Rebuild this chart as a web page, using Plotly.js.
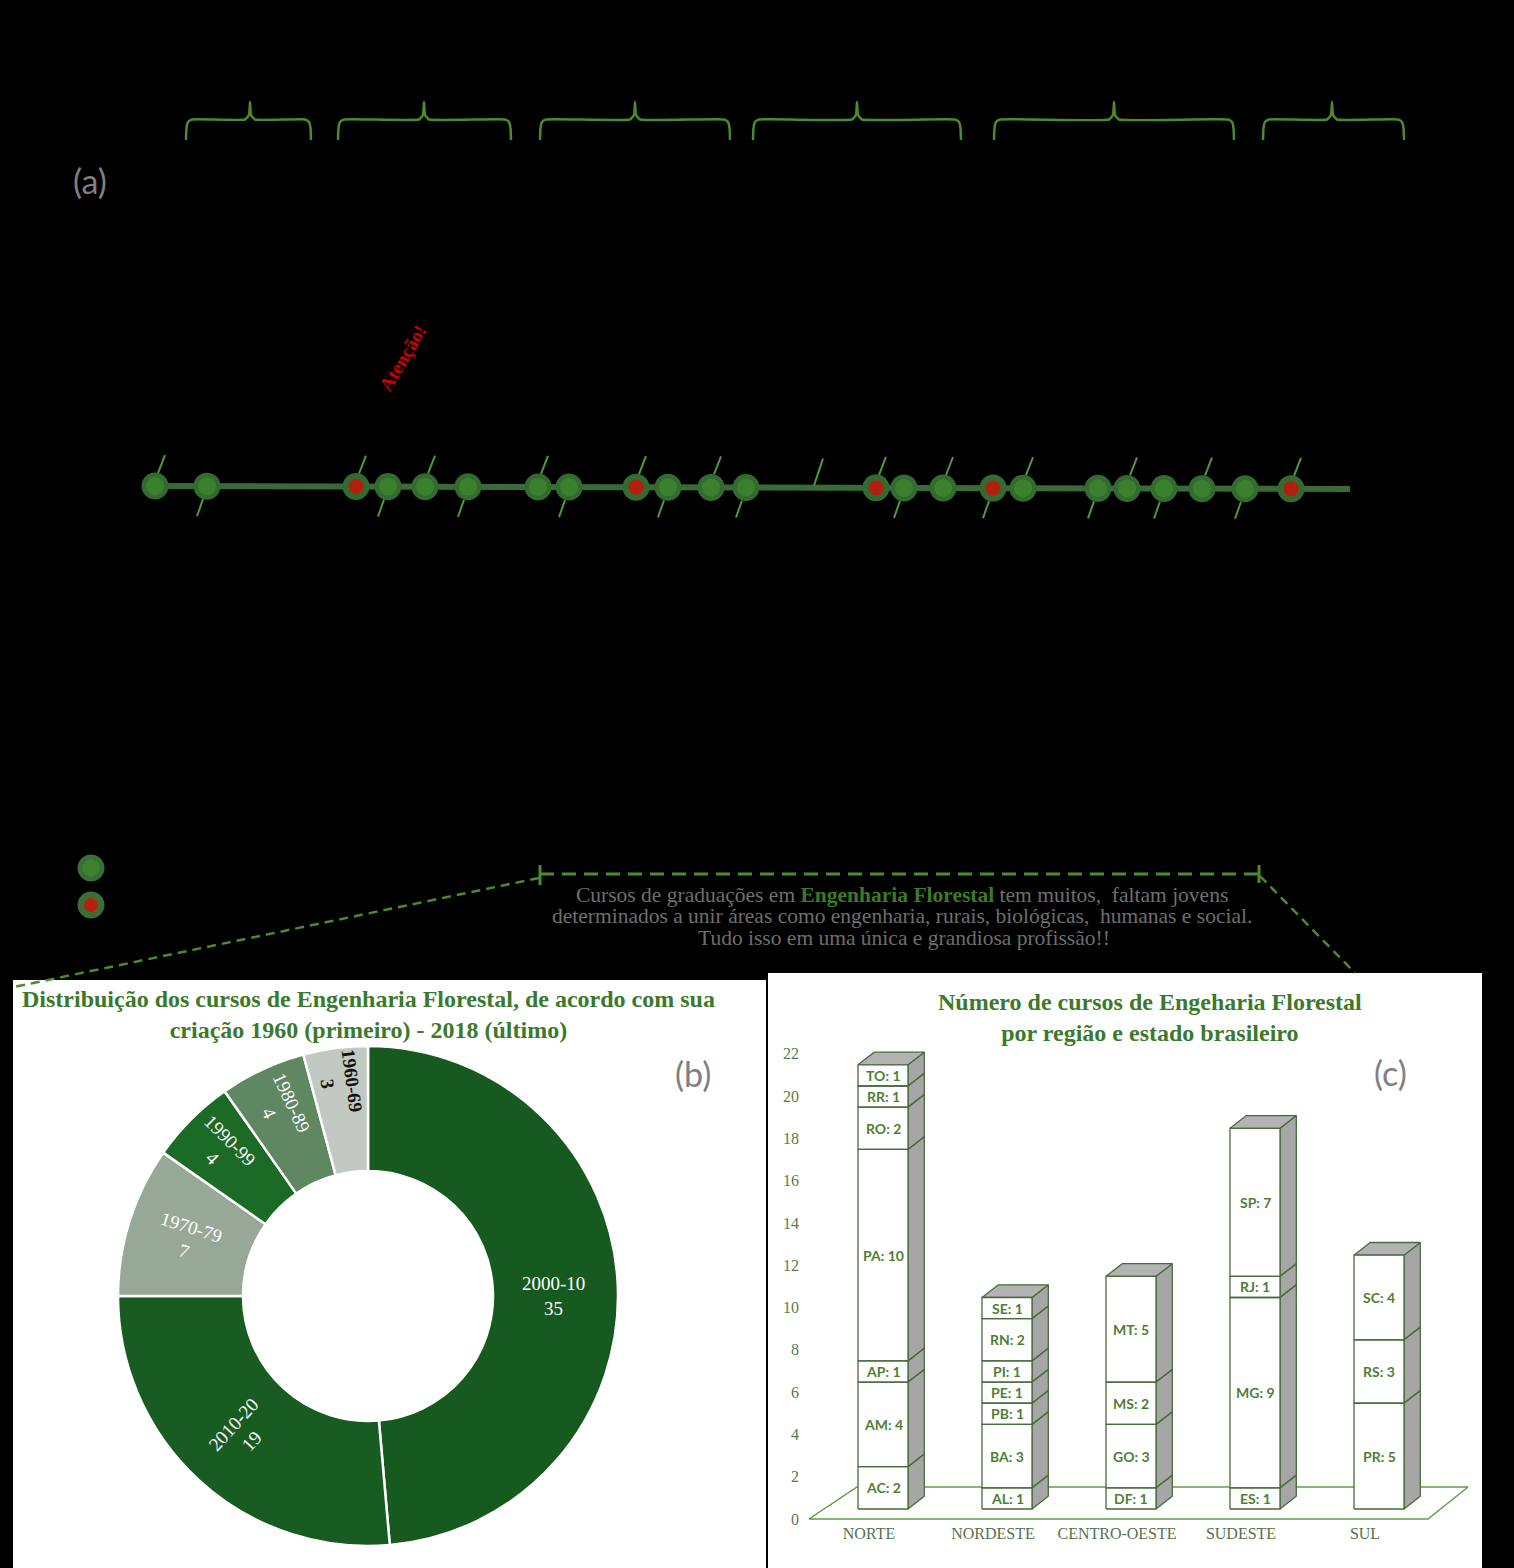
<!DOCTYPE html>
<html><head><meta charset="utf-8">
<script src="https://cdn.plot.ly/plotly-3.0.1.min.js"></script>
<style>html,body{margin:0;padding:0;background:#000;}#chart{width:1514px;height:1568px;}</style>
</head><body><div id="chart"></div>
<script>
// ================= DATA =================
// (a) timeline: event positions along the timeline and kind (g = green, r = red)
const timelinePos  = [155,207,356,388,425,468,538,569,636,668,711,746,876,904,943,993,1023,1098,1127,1164,1202,1245,1291];
const timelineKind = ['g','g','r','g','g','g','g','g','r','g','g','g','r','g','g','r','g','g','g','g','g','g','r'];
const plainTickPos = [814];
// decade braces above the timeline
const braceStart = [186,338,540,753,994,1263];
const braceEnd   = [311,511,730,961,1234,1404];
const braceTip   = [250,424,635,857,1114,1332];

// (b) donut
const decadeLabels = ['2000-10','2010-20','1970-79','1990-99','1980-89','1960-69'];
const decadeCounts = [35,19,7,4,4,3];
const decadeColors = ['#165a1f','#195c21','#97a996','#1b6a25','#5e8762','#c2c9c2'];

// (c) stacked 3D bars
const regions = ['NORTE','NORDESTE','CENTRO-OESTE','SUDESTE','SUL'];
const norteStates = ['AC','AM','AP','PA','RO','RR','TO'];
const norteCounts = [2,4,1,10,2,1,1];
const nordesteStates = ['AL','BA','PB','PE','PI','RN','SE'];
const nordesteCounts = [1,3,1,1,1,2,1];
const centroStates = ['DF','GO','MS','MT'];
const centroCounts = [1,3,2,5];
const sudesteStates = ['ES','MG','RJ','SP'];
const sudesteCounts = [1,9,1,7];
const sulStates = ['PR','RS','SC'];
const sulCounts = [5,3,4];
const yTicks = [0,2,4,6,8,10,12,14,16,18,20,22];

// ================= STYLE / LAYOUT CONSTANTS =================
const W = 1514, H = 1568;
const traces = [];
const annotations = [];
const shapes = [];
const px = v => v / W, py = v => 1 - v / H;

// panel backgrounds
shapes.push({type:'rect',xref:'paper',yref:'paper',x0:px(13),x1:px(766),y0:0,y1:py(980),fillcolor:'#ffffff',line:{width:0},layer:'below'});
shapes.push({type:'rect',xref:'paper',yref:'paper',x0:px(768),x1:px(1482),y0:0,y1:py(973),fillcolor:'#ffffff',line:{width:0},layer:'below'});

// ---------- (a) timeline ----------
const lineX0 = 145, lineX1 = 1350, lineY0 = 486, lineY1 = 489;
const yOnLine = x => lineY0 + (lineY1 - lineY0) * (x - lineX0) / (lineX1 - lineX0);
const noLine = {width:0};

traces.push({type:'scatter',mode:'lines',x:[lineX0,lineX1],y:[lineY0,lineY1],
  line:{color:'#3a6a37',width:6},hoverinfo:'skip',xaxis:'x',yaxis:'y'});

// diagonal ticks
const tx = [], ty = [];
timelinePos.forEach((p,i) => {
  const c = yOnLine(p);
  if (i % 2 === 0) { tx.push(p+3, p+10, null); ty.push(c-13, c-31, null); }
  else { tx.push(p-4, p-10, null); ty.push(c+13, c+30, null); }
});
plainTickPos.forEach(p => { const c = yOnLine(p); tx.push(p, p+9, null); ty.push(c-2, c-29, null); });
traces.push({type:'scatter',mode:'lines',x:tx,y:ty,line:{color:'#4f9a3c',width:2},hoverinfo:'skip',xaxis:'x',yaxis:'y'});

// dots
traces.push({type:'scatter',mode:'markers',x:timelinePos,y:timelinePos.map(yOnLine),
  marker:{size:27,color:'#336a30',line:noLine},hoverinfo:'skip',xaxis:'x',yaxis:'y'});
traces.push({type:'scatter',mode:'markers',x:timelinePos,y:timelinePos.map(yOnLine),
  marker:{size:timelineKind.map(k=>k==='r'?15:18),color:timelineKind.map(k=>k==='r'?'#e80000':'#3f8c2c'),line:noLine},
  hoverinfo:'skip',xaxis:'x',yaxis:'y'});

// braces
const bx = [], by = [];
braceStart.forEach((a,i) => {
  const b = braceEnd[i], t = braceTip[i];
  bx.push(a, a+0.5, a+2, a+6, t-5, t-1, t, t+1, t+5, b-6, b-2, b-0.5, b, null);
  by.push(140, 128, 122, 119.5, 119.5, 115, 102, 115, 119.5, 119.5, 122, 128, 140, null);
});
traces.push({type:'scatter',mode:'lines',x:bx,y:by,line:{color:'#4b8b2b',width:2.5,shape:'spline',smoothing:0.4},hoverinfo:'skip',xaxis:'x',yaxis:'y'});

// legend dots
const legendY = [868, 905];
traces.push({type:'scatter',mode:'markers',x:[91,91],y:legendY,marker:{size:27,color:'#3a6e36',line:noLine},hoverinfo:'skip',xaxis:'x',yaxis:'y'});
traces.push({type:'scatter',mode:'markers',x:[91,91],y:legendY,marker:{size:[17,14],color:['#3f8c2c','#e80000'],line:noLine},hoverinfo:'skip',xaxis:'x',yaxis:'y'});

// dashed connectors
traces.push({type:'scatter',mode:'lines',x:[540,1259],y:[874,874],line:{color:'#4a8c2c',width:3,dash:'14px,8px'},hoverinfo:'skip',xaxis:'x',yaxis:'y'});
traces.push({type:'scatter',mode:'lines',x:[539,14],y:[878,987],line:{color:'#4a8c2c',width:2.5,dash:'9px,6px'},hoverinfo:'skip',xaxis:'x',yaxis:'y'});
traces.push({type:'scatter',mode:'lines',x:[1260,1355],y:[876,973],line:{color:'#4a8c2c',width:2.5,dash:'9px,6px'},hoverinfo:'skip',xaxis:'x',yaxis:'y'});
traces.push({type:'scatter',mode:'lines',x:[540,540,null,1259,1259],y:[865,885,null,865,883],line:{color:'#4a8c2c',width:3},hoverinfo:'skip',xaxis:'x',yaxis:'y'});

// texts on canvas
const canvasAnn = (x,y,text,font,extra) => Object.assign({xref:'x',yref:'y',x:x,y:y,text:text,showarrow:false,font:font,xanchor:'center',yanchor:'middle'},extra||{});
annotations.push(canvasAnn(90,180,'(a)',{family:'Lato, sans-serif',size:34,color:'#808080'}));
annotations.push(canvasAnn(693,1073,'(b)',{family:'Lato, sans-serif',size:34,color:'#808080'}));
annotations.push(canvasAnn(1390,1072,'(c)',{family:'Lato, sans-serif',size:34,color:'#808080'}));
annotations.push(canvasAnn(402,358,'<b>Atenção!</b>',{family:'Liberation Serif, serif',size:19,color:'#cc0000'},{textangle:-59}));
const grayFont = {family:'Liberation Serif, serif',size:21.5,color:'#6e6e6e'};
annotations.push(canvasAnn(902,895,'Cursos de graduações em <b><span style="color:#3d7a25">Engenharia Florestal</span></b> tem muitos,  faltam jovens',grayFont));
annotations.push(canvasAnn(902,916,'determinados a unir áreas como engenharia, rurais, biológicas,  humanas e social.',grayFont));
annotations.push(canvasAnn(904,938,'Tudo isso em uma única e grandiosa profissão!!',grayFont));

const titleFont = {family:'Liberation Serif, serif',size:24,color:'#3b7a2c'};
annotations.push(canvasAnn(368,1014,'<b>Distribuição dos cursos de Engenharia Florestal, de acordo com sua<br>criação 1960 (primeiro) - 2018 (último)</b>',titleFont));
annotations.push(canvasAnn(1150,1017,'<b>Número de cursos de Engeharia Florestal<br>por região e estado brasileiro</b>',titleFont));

// ---------- (b) donut ----------
traces.push({type:'pie',labels:decadeLabels,values:decadeCounts,hole:0.5,sort:false,direction:'clockwise',rotation:0,
  domain:{x:[px(118),px(618)],y:[py(1546),py(1046)]},
  marker:{colors:decadeColors,line:{color:'#ffffff',width:2.5}},
  textposition:'inside',insidetextorientation:'radial',
  texttemplate:decadeLabels.map(l=>l==='1960-69'?'<b>%{label}<br>%{value}</b>':'%{label}<br>%{value}'),
  textfont:{family:'Liberation Serif, serif',size:19,color:decadeLabels.map(l=>l==='1960-69'?'#111111':'#ffffff')},
  hoverinfo:'skip',showlegend:false});

// ---------- (c) 3D stacked bars ----------
const pxPerUnitY = 21.15, pxPerRegion = 124, labelX0 = 869, zeroY = 1519;
const xDomL = 800, xDomR = 1480, yDomB = 1522, yDomT = 1040;
const barShift = 14/pxPerRegion, halfW = 25/pxPerRegion, depX = 16.3/pxPerRegion, depY = 12.7/pxPerUnitY, base0 = 10/pxPerUnitY;
const floorDx = 40/pxPerRegion, floorDy = 32/pxPerUnitY;
const fL = -60/pxPerRegion, fR = 4 + 63/pxPerRegion;

// floor
traces.push({type:'scatter',mode:'lines',fill:'toself',fillcolor:'#ffffff',
  x:[fL,fR,fR+floorDx,fL+floorDx+8/pxPerRegion,fL],y:[0,0,floorDy,floorDy,0],
  line:{color:'#5e9e3e',width:1.4},hoverinfo:'skip',xaxis:'x2',yaxis:'y2'});

const stacks = [
  [norteStates,norteCounts],[nordesteStates,nordesteCounts],[centroStates,centroCounts],
  [sudesteStates,sudesteCounts],[sulStates,sulCounts]];
const frX=[],frY=[],sdX=[],sdY=[],tpX=[],tpY=[];
const segAnn = [];
stacks.forEach(([states,counts],i) => {
  const xc = i + barShift, xl = xc - halfW, xr = xc + halfW;
  let b = base0;
  counts.forEach((v,k) => {
    const t = b + v;
    frX.push(xl,xr,xr,xl,xl,null); frY.push(b,b,t,t,b,null);
    sdX.push(xr,xr+depX,xr+depX,xr,xr,null); sdY.push(b,b+depY,t+depY,t,b,null);
    segAnn.push({xref:'x2',yref:'y2',x:xc,y:(b+t)/2,text:'<b>'+states[k]+': '+v+'</b>',showarrow:false,
      font:{family:'Lato, sans-serif',size:14,color:'#4e8034'},xanchor:'center',yanchor:'middle'});
    b = t;
  });
  tpX.push(xl,xr,xr+depX,xl+depX,xl,null); tpY.push(b,b,b+depY,b+depY,b,null);
});
const barLine = {color:'#476b3c',width:1.3};
traces.push({type:'scatter',mode:'lines',fill:'toself',fillcolor:'#a6a6a6',x:sdX,y:sdY,line:barLine,hoverinfo:'skip',xaxis:'x2',yaxis:'y2'});
traces.push({type:'scatter',mode:'lines',fill:'toself',fillcolor:'#b3b3b3',x:tpX,y:tpY,line:barLine,hoverinfo:'skip',xaxis:'x2',yaxis:'y2'});
traces.push({type:'scatter',mode:'lines',fill:'toself',fillcolor:'#ffffff',x:frX,y:frY,line:barLine,hoverinfo:'skip',xaxis:'x2',yaxis:'y2'});
annotations.push(...segAnn);

const layout = {
  width:W,height:H,margin:{l:0,r:0,t:0,b:0},paper_bgcolor:'#000000',plot_bgcolor:'rgba(0,0,0,0)',
  showlegend:false,
  xaxis:{domain:[0,1],range:[0,W],visible:false,fixedrange:true},
  yaxis:{domain:[0,1],range:[H,0],visible:false,fixedrange:true},
  xaxis2:{domain:[px(xDomL),px(xDomR)],range:[(xDomL-labelX0)/pxPerRegion,(xDomR-labelX0)/pxPerRegion],anchor:'y2',
    tickvals:[0,1,2,3,4],ticktext:regions,showgrid:false,zeroline:false,showline:false,ticks:'',
    tickfont:{family:'Liberation Serif, serif',size:16,color:'#56704c'},fixedrange:true},
  yaxis2:{domain:[py(yDomB),py(yDomT)],range:[-(yDomB-zeroY)/pxPerUnitY,(zeroY-yDomT)/pxPerUnitY],anchor:'x2',
    tickvals:yTicks,showgrid:false,zeroline:false,showline:false,ticks:'',
    tickfont:{family:'Liberation Serif, serif',size:16,color:'#5b7a4b'},fixedrange:true},
  shapes:shapes,annotations:annotations
};
Plotly.newPlot('chart',traces,layout,{displayModeBar:false,staticPlot:true});
</script></body></html>
